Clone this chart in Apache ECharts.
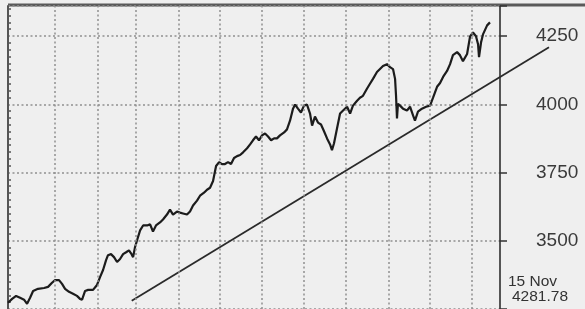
<!DOCTYPE html>
<html>
<head>
<meta charset="utf-8">
<script src="https://cdn.jsdelivr.net/npm/echarts@6/dist/echarts.min.js"></script>
<style>
  html, body { margin: 0; padding: 0; background: #efefef; }
  #chart { width: 585px; height: 309px; }
</style>
</head>
<body>
<div id="chart"></div>
<script>
// x values are days counted from 1 Jan 1993 (negative = Dec 1992)
const days = [
  -34.3, -31.3, -28.4, -25.5, -22.6, -20.4, -18.2, -16.0, -12.4, -8.0, -5.1, -2.2, 0, 2.9, 5.1, 7.3,
  10.2, 13.1, 16.0, 18.2, 19.7, 21.9, 24.1, 27.7, 30.6, 32.8, 35.0, 37.2, 38.6, 40.8, 43.0, 45.2,
  47.4, 49.6, 51.8, 53.9, 55.4, 56.9, 58.3, 59.8, 62.0, 64.2, 67.1, 69.3, 71.4, 73.6, 76.5, 78.7,
  81.6, 83.8, 86.0, 88.9, 91.1, 93.3, 96.2, 98.4, 100.6, 103.5, 105.7, 108.6, 110.8, 113.0, 115.2,
  117.4, 119.6, 121.7, 123.9, 126.1, 128.3, 130.5, 132.7, 134.9, 137.1, 140.0, 142.2, 144.3, 146.5,
  148.7, 150.9, 153.1, 155.3, 157.5, 159.7, 161.8, 164.0, 167.0, 169.1, 171.3, 173.5, 175.0, 177.1,
  179.3, 181.5, 183.7, 185.9, 187.4, 189.5, 191.7, 193.9, 196.1, 198.3, 200.5, 201.9, 203.4, 205.6,
  207.8, 210.0, 212.9, 215.1, 217.2, 220.2, 222.3, 224.5, 227.4, 229.6, 231.8, 234.7, 236.9, 239.1,
  242.0, 244.2, 246.4, 247.9, 248.6, 249.3, 250.0, 251.5, 253.7, 256.6, 258.8, 261.0, 262.4, 264.6,
  267.5, 270.5, 273.4, 275.6, 278.5, 280.7, 282.9, 285.8, 288.0, 290.1, 293.1, 295.2, 297.4, 300.4,
  302.6, 304.7, 306.9, 308.4, 309.1, 310.6, 312.0, 315.0, 317.1
];
const index = [
  3273, 3287, 3298, 3291, 3284, 3269, 3291, 3316, 3324, 3327, 3331, 3346, 3356, 3356, 3342, 3324,
  3313, 3306, 3298, 3287, 3284, 3316, 3320, 3320, 3338, 3367, 3393, 3429, 3447, 3451, 3440, 3422,
  3433, 3451, 3458, 3465, 3454, 3440, 3476, 3502, 3538, 3556, 3556, 3560, 3534, 3556, 3567, 3578,
  3596, 3614, 3596, 3607, 3603, 3600, 3596, 3607, 3629, 3647, 3665, 3676, 3687, 3694, 3719,
  3774, 3788, 3781, 3781, 3788, 3781, 3803, 3810, 3814, 3824, 3839, 3853, 3868, 3882,
  3868, 3886, 3893, 3882, 3868, 3875, 3875, 3886, 3897, 3908, 3940, 3984, 3999, 3984,
  3970, 3995, 3999, 3966, 3922, 3955, 3933, 3926, 3901, 3875, 3853, 3832, 3857, 3912,
  3966, 3977, 3991, 3966, 3995, 4013, 4024, 4031, 4057, 4075, 4093, 4118, 4129, 4140,
  4147, 4136, 4129, 4093, 4031, 3948, 4002, 3995, 3984, 3977, 3991, 3959, 3940, 3973,
  3984, 3991, 3995, 4024, 4064, 4078, 4100, 4122, 4147, 4180, 4191, 4180, 4158, 4184,
  4249, 4263, 4249, 4220, 4173, 4227, 4256, 4289, 4300
];
// trend line end points
const trendDays = [55.9, 360.1];
const trendValues = [3280, 4209];
// first day of each month, Jan..Nov
const monthStarts = [0, 31, 59, 90, 120, 151, 181, 212, 243, 273, 304];
const yTicks = [3500, 3750, 4000, 4250];

const chart = echarts.init(document.getElementById('chart'));
const gridColor = '#909090';
const dots = [2, 2.5];

const option = {
  animation: false,
  backgroundColor: '#efefef',
  grid: [
    { left: 8, top: 6, width: 492, height: 306 },
    // wider grid so the trend line runs on past the right axis
    { left: 8, top: 6, width: 541, height: 306 }
  ],
  xAxis: [
    { type: 'value', gridIndex: 0, min: -34.3, max: 324.4, show: false },
    { type: 'value', gridIndex: 1, min: -34.3, max: 360.1, show: false }
  ],
  yAxis: [
    {
      type: 'value',
      gridIndex: 0,
      position: 'right',
      min: 3250,
      max: 4360,
      interval: 250,
      axisLine: { show: true, onZero: false, lineStyle: { color: '#222', width: 1.5 } },
      axisTick: { show: true, length: 7, lineStyle: { color: '#333', width: 1.5 } },
      axisLabel: {
        margin: 36,
        fontFamily: 'Liberation Sans',
        fontSize: 19,
        color: '#3a3a3a',
        formatter: v => (yTicks.indexOf(v) >= 0 ? String(v) : '')
      },
      splitLine: { show: true, lineStyle: { type: dots, color: gridColor, width: 1.5 } }
    },
    {
      type: 'value',
      gridIndex: 0,
      position: 'left',
      min: 3250,
      max: 4360,
      interval: 250,
      axisLine: { show: true, onZero: false, lineStyle: { color: '#555', width: 2 } },
      axisTick: { show: false, inside: true },
      minorTick: { show: true, splitNumber: 10, length: 3, lineStyle: { color: '#555', width: 1.5 } },
      axisLabel: { show: false },
      splitLine: { show: false }
    },
    { type: 'value', gridIndex: 1, min: 3250, max: 4360, show: false }
  ],
  graphic: [
    { type: 'line', shape: { x1: 8, y1: 5, x2: 585, y2: 5 }, style: { stroke: '#5a5a5a', lineWidth: 3 } },
    { type: 'text', left: 508, top: 274, style: { text: '15 Nov', fontFamily: 'Liberation Sans', fontSize: 15.5, fill: '#333' } },
    { type: 'text', left: 512, top: 289, style: { text: '4281.78', fontFamily: 'Liberation Sans', fontSize: 15.5, fill: '#333' } }
  ],
  series: [
    {
      type: 'line',
      xAxisIndex: 0,
      yAxisIndex: 0,
      data: [],
      z: 1,
      silent: true,
      markLine: {
        silent: true,
        symbol: 'none',
        label: { show: false },
        lineStyle: { type: dots, color: gridColor, width: 1.5 },
        data: monthStarts.map(d => ({ xAxis: d }))
      }
    },
    {
      name: 'trend',
      type: 'line',
      xAxisIndex: 1,
      yAxisIndex: 2,
      showSymbol: false,
      z: 3,
      lineStyle: { color: '#2a2a2a', width: 1.8 },
      data: trendDays.map((d, i) => [d, trendValues[i]])
    },
    {
      name: 'index',
      type: 'line',
      xAxisIndex: 0,
      yAxisIndex: 0,
      showSymbol: false,
      z: 4,
      lineStyle: { color: '#1c1c1c', width: 2.2 },
      data: days.map((d, i) => [d, index[i]])
    }
  ]
};
chart.setOption(option);
</script>
</body>
</html>
